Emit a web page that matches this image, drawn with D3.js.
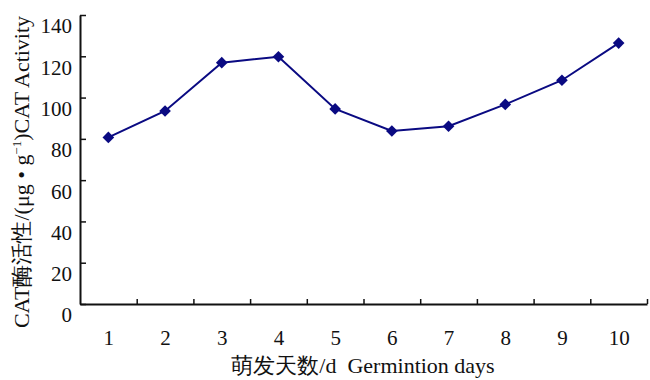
<!DOCTYPE html>
<html>
<head>
<meta charset="utf-8">
<script src="https://cdn.jsdelivr.net/npm/d3@7"></script>
<style>
  body { margin: 0; background: #fff; }
  text { font-family: "Liberation Serif", "Times New Roman", serif; fill: #111; }
</style>
</head>
<body>
<svg id="chart" width="650" height="380"></svg>
<script>
// germination day / CAT activity
var days = [1, 2, 3, 4, 5, 6, 7, 8, 9, 10];
var activity = [80.7, 93.5, 116.9, 119.8, 94.5, 83.8, 86.1, 96.7, 108.4, 126.4];
var yTicks = [0, 20, 40, 60, 80, 100, 120, 140];

var svg = d3.select("#chart");

// each day sits in the middle of its own slot, ticks sit between slots
var x = d3.scaleLinear().domain([0.5, 10.5]).range([80, 647]);
var y = d3.scaleLinear().domain([0, 140]).range([304, 15]);

// x axis: line + inward ticks on the slot edges
var gx = svg.append("g")
  .attr("transform", "translate(0," + y(0) + ")")
  .call(d3.axisBottom(x)
    .tickValues(days.map(function(d) { return d + 0.5; }))
    .tickSize(-5).tickSizeOuter(0).tickFormat(""));
gx.select(".domain").attr("stroke", "#111").attr("stroke-width", 2);
gx.selectAll(".tick line").attr("stroke", "#111").attr("stroke-width", 1.5);

// day numbers
var gxl = svg.append("g")
  .attr("transform", "translate(0," + y(0) + ")")
  .call(d3.axisBottom(x).tickValues(days).tickSize(0).tickPadding(26));
gxl.select(".domain").remove();
gxl.selectAll("text")
  .attr("font-size", 21)
  .attr("font-family", "Liberation Serif, serif")
  .attr("fill", "#111");

// y axis, ticks point into the plot
var gy = svg.append("g")
  .attr("transform", "translate(" + x(0.5) + ",0)")
  .call(d3.axisLeft(y).tickValues(yTicks).tickSize(-6).tickSizeOuter(0).tickPadding(8));
gy.select(".domain").attr("stroke", "#111").attr("stroke-width", 2);
gy.selectAll(".tick line").attr("stroke", "#111").attr("stroke-width", 1.5);
gy.selectAll("text")
  .attr("font-size", 21)
  .attr("font-family", "Liberation Serif, serif")
  .attr("fill", "#111")
  .attr("dy", "0.85em");

// the series
var line = d3.line()
  .x(function(d, i) { return x(days[i]); })
  .y(function(d) { return y(d); });

svg.append("path")
  .datum(activity)
  .attr("fill", "none")
  .attr("stroke", "#0a0a82")
  .attr("stroke-width", 2)
  .attr("d", line);

svg.selectAll(".mark")
  .data(activity)
  .enter().append("path")
  .attr("class", "mark")
  .attr("d", d3.symbol(d3.symbolDiamond2, 60))
  .attr("fill", "#0a0a82")
  .attr("transform", function(d, i) {
    return "translate(" + x(days[i]) + "," + y(d) + ") scale(1.2)";
  });

// axis titles
svg.append("text")
  .attr("x", 363)
  .attr("y", 373)
  .attr("text-anchor", "middle")
  .attr("font-size", 22)
  .attr("xml:space", "preserve")
  .text("萌发天数/d  Germintion days");

var yl = svg.append("text")
  .attr("transform", "translate(29,172) rotate(-90)")
  .attr("text-anchor", "middle")
  .attr("font-size", 22);
yl.append("tspan").text("CAT酶活性/(μg • g");
yl.append("tspan").attr("dy", -8).attr("font-size", 13).text("−1");
yl.append("tspan").attr("dy", 8).text(")CAT Activity");
</script>
</body>
</html>
